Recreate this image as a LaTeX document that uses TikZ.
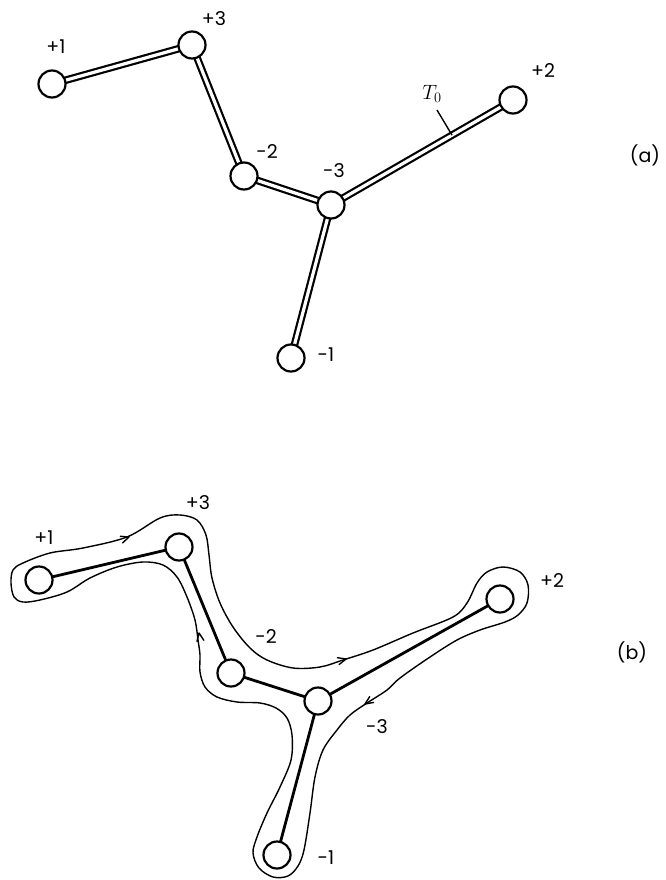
\documentclass[tikz,border=0pt]{standalone}
\usepackage{fontspec}
\setmainfont{Poppins}
\usetikzlibrary{calc}
\tikzset{
  vtx/.style={circle, draw, line width=2.2pt, fill=white, minimum size=27pt, inner sep=0pt},
  dbl/.style={line width=2.2pt, double=white, double distance=3.2pt},
  edgeb/.style={line width=2.8pt},
  contour/.style={line width=1.4pt, line join=round, line cap=round},
  lbl/.style={font=\fontsize{19}{19}\selectfont, inner sep=0pt},
  chev/.pic={\draw[contour] (-8pt,3.5pt) -- (0,0) -- (-8pt,-3.5pt);}
}
\begin{document}
\begin{tikzpicture}[x=1pt,y=-1pt]
\useasboundingbox (0,0) rectangle (666,880);
% ---------- panel (a)
\coordinate (a1c) at (52,84);
\coordinate (a3c) at (192,45);
\coordinate (am2c) at (244,176);
\coordinate (am3c) at (331,205);
\coordinate (am1c) at (291,358);
\coordinate (a2c) at (513,100);
\draw[dbl] (a1c) -- (a3c);
\draw[dbl] (a3c) -- (am2c);
\draw[dbl] (am2c) -- (am3c);
\draw[dbl] (am3c) -- (a2c);
\draw[dbl] (am3c) -- (am1c);
\node[vtx] (a1) at (a1c) {};
\node[vtx] (a3) at (a3c) {};
\node[vtx] (am2) at (am2c) {};
\node[vtx] (am3) at (am3c) {};
\node[vtx] (am1) at (am1c) {};
\node[vtx] (a2) at (a2c) {};
\node[lbl] (la1) at (56,47) {+1};
\node[lbl] (la3) at (214,19) {+3};
\node[lbl] (lam2) at (267,152) {-2};
\node[lbl] (lam3) at (334,171) {-3};
\node[lbl] (lam1) at (326,355) {-1};
\node[lbl] (la2) at (543,71) {+2};
\node[inner sep=0pt, font=\fontsize{20}{20}\selectfont] (T0) at (432,94) {$T_0$};
\coordinate (tk) at ($(am3c)!0.665!(a2c)$);
\draw[line width=1.4pt] (437,110) -- (tk);
\node[lbl] (la) at (645,155) {(a)};
% ---------- panel (b)
\coordinate (b1c) at (39,580);
\coordinate (b3c) at (179,547);
\coordinate (bm2c) at (231,673);
\coordinate (bm3c) at (318,701);
\coordinate (bm1c) at (277,855);
\coordinate (b2c) at (500,599);
\draw[contour] plot[smooth cycle, tension=0.55] coordinates {
(23,563) (50,553) (83,548) (127,537) (160,518) (180,515) (197,520) (206,535)
(209,555) (212,578) (220,603) (233,627) (250,648) (267,660) (293,668) (320,667)
(343,660) (373,650) (413,633) (453,617) (467,603) (477,583) (487,572) (503,567)
(520,572) (528,585) (527,603) (518,615) (505,622) (480,630) (457,640) (430,657)
(400,678) (387,690) (367,703) (350,715) (337,730) (323,750) (315,777) (310,813)
(304,850) (298,866) (288,876) (273,877) (259,868) (253,853) (257,837) (267,813)
(280,787) (291,760) (292,735) (287,718) (276,708) (260,703) (237,702) (217,697)
(205,687) (200,672) (200,655) (198,640) (195,620) (187,597) (177,577) (163,565)
(143,562) (117,567) (90,578) (67,592) (40,600) (23,602) (14,597) (11,583) (13,570)};
\draw[edgeb] (b1c) -- (b3c);
\draw[edgeb] (b3c) -- (bm2c);
\draw[edgeb] (bm2c) -- (bm3c);
\draw[edgeb] (bm3c) -- (b2c);
\draw[edgeb] (bm3c) -- (bm1c);
\node[vtx] (b1) at (b1c) {};
\node[vtx] (b3) at (b3c) {};
\node[vtx] (bm2) at (bm2c) {};
\node[vtx] (bm3) at (bm3c) {};
\node[vtx] (bm1) at (bm1c) {};
\node[vtx] (b2) at (b2c) {};
\pic[rotate=19] at (129,537) {chev};
\pic[rotate=100] at (199,633) {chev};
\pic[rotate=15] at (346,659) {chev};
\pic[rotate=214] at (365,704) {chev};
\node[lbl] (lb1) at (44,538) {+1};
\node[lbl] (lb3) at (198,503) {+3};
\node[lbl] (lbm2) at (266,637) {-2};
\node[lbl] (lbm3) at (377,727) {-3};
\node[lbl] (lbm1) at (326,858) {-1};
\node[lbl] (lb2) at (552,581) {+2};
\node[lbl] (lb) at (632,652) {(b)};
\end{tikzpicture}
\end{document}
